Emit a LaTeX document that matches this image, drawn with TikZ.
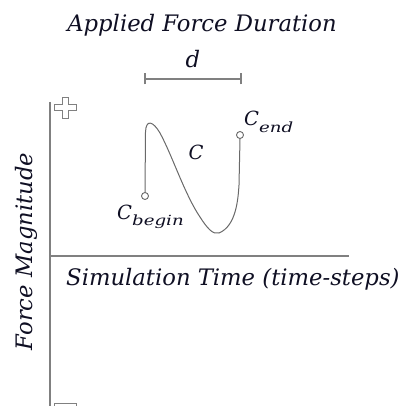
\documentclass[tikz,border=0pt]{standalone}
\usepackage{fontspec}
\setmainfont{DejaVu Serif}
\definecolor{axgray}{RGB}{128,128,128}
\definecolor{crvgray}{RGB}{105,105,105}
\definecolor{txt}{RGB}{15,15,35}
\newcommand{\bigtxt}{\itshape\fontsize{22.7}{26}\selectfont}
\newcommand{\subtxt}[1]{\raisebox{-6pt}{\fontsize{14}{16}\selectfont\scalebox{1.3}[1]{#1}}}
\begin{document}
\begin{tikzpicture}[x=1pt,y=-1pt,
  lbl/.style={inner sep=0pt,font=\itshape,text=txt},
  axis/.style={draw=axgray,line width=1.4pt},
  crv/.style={draw=crvgray,line width=1pt},
  endpt/.style={circle,draw=crvgray,fill=white,line width=0.9pt,inner sep=0pt,minimum size=7pt},
  sym/.style={draw=axgray,line width=0.9pt,fill=white}]
\useasboundingbox (0,0) rectangle (404,406);
% axes
\coordinate (ytop) at (50,102);
\coordinate (ybot) at (50,410);
\coordinate (xl) at (50,256);
\coordinate (xr) at (349,256);
\draw[axis] (ytop) -- (ybot);
\draw[axis] (xl) -- (xr);
% plus sign
\draw[sym] (62,97) -- (68,97) -- (68,104.5) -- (76,104.5) -- (76,110.5) -- (68,110.5) -- (68,118) -- (62,118) -- (62,110.5) -- (54,110.5) -- (54,104.5) -- (62,104.5) -- cycle;
% minus sign
\draw[sym] (54,403.5) rectangle (76,410);
% texts
\node[lbl,font=\bigtxt,anchor=base] (title) at (202,32) {Applied Force Duration};
\node[lbl,font=\bigtxt,anchor=base] (dlab) at (193,68) {d};
\node[lbl,font=\bigtxt,anchor=base west] (xlab) at (66,285) {Simulation Time (time-steps)};
\node[lbl,font=\bigtxt,anchor=base,rotate=90] (ylab) at (32,251.5) {Force Magnitude};
% duration bar
\coordinate (dl) at (145,79);
\coordinate (dr) at (241,79);
\draw[axis,line width=1.2pt] (dl) -- (dr);
\draw[axis,line width=1.2pt] ([yshift=-5.5pt]dl) -- ([yshift=5.5pt]dl);
\draw[axis,line width=1.2pt] ([yshift=-5.5pt]dr) -- ([yshift=5.5pt]dr);
% curve
\node[endpt] (cb) at (145,196) {};
\node[endpt] (ce) at (240,135) {};
\draw[crv] (cb.north) -- (145.5,132) .. controls (146,119) and (153,121) .. (160,133)
  .. controls (172,155) and (185,195) .. (200,217)
  .. controls (207,228) and (213,235) .. (219,233)
  .. controls (236,226) and (238,200) .. (239,185) -- (ce.south);
\node[lbl,font=\itshape\fontsize{19.5}{22}\selectfont] (clab) at (196,152.5) {C};
\node[lbl,anchor=base west] (cbl) at (117,219) {{\fontsize{19.5}{22}\selectfont C}\subtxt{begin}};
\node[lbl,anchor=base west] (cel) at (244,126) {{\fontsize{19.5}{22}\selectfont C}\subtxt{end}};
\end{tikzpicture}
\end{document}
